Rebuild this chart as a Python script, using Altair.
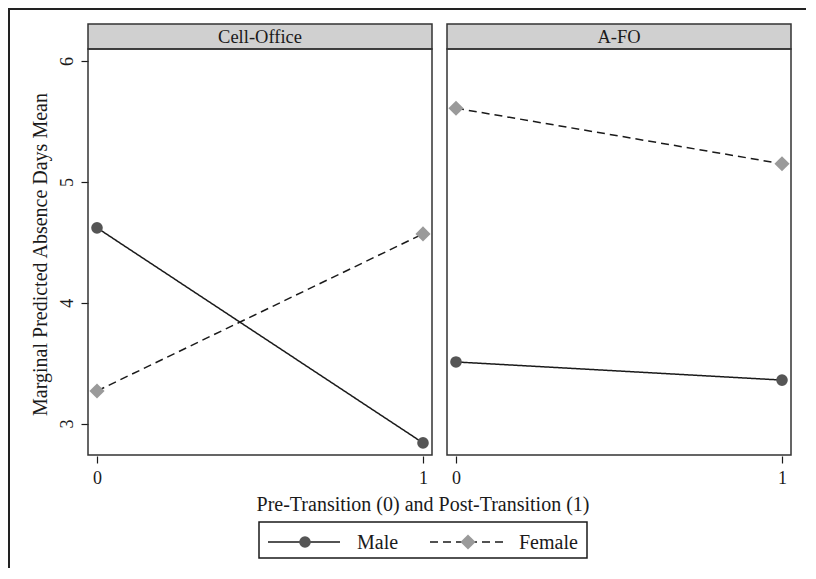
import altair as alt
import pandas as pd

# ---- data ----
panels = ["Cell-Office", "A-FO"]
series = ["Male", "Female"]
periods = [0, 1]
cell_male = [4.62, 2.84]
cell_female = [3.27, 4.57]
afo_male = [3.51, 3.36]
afo_female = [5.61, 5.15]
y_ticks = [3, 4, 5, 6]
x_ticks = [0, 1]

rows = []
for panel, m, f in [("Cell-Office", cell_male, cell_female), ("A-FO", afo_male, afo_female)]:
    for p, v in zip(periods, m):
        rows.append({"panel": panel, "sex": "Male", "period": p, "value": v})
    for p, v in zip(periods, f):
        rows.append({"panel": panel, "sex": "Female", "period": p, "value": v})
df = pd.DataFrame(rows)
legend_df = pd.DataFrame({"sex": series})

FONT = "Liberation Serif"
W, H = 798, 560
INK = "#1a1a1a"

yscale = alt.Scale(domain=[2.74, 6.1], range=[447, 41], nice=False, zero=False)
yaxis = alt.Axis(values=y_ticks, orient="left", offset=-80, domain=False, grid=False,
                 tickSize=7, tickColor=INK, tickWidth=1.2, labelAngle=-90, labelAlign="center",
                 labelBaseline="bottom", labelPadding=5, labelFont=FONT, labelFontSize=18,
                 labelColor=INK, title="Marginal Predicted Absence Days Mean",
                 titleFont=FONT, titleFontSize=20, titleFontWeight="normal", titleColor=INK,
                 titleAngle=-90, titleX=-48, titleY=246, titleAlign="center", titleBaseline="middle")

dash_scale = alt.Scale(domain=series, range=[[1, 0], [8, 5]])
shape_scale = alt.Scale(domain=series, range=["circle", "diamond"])
fill_scale = alt.Scale(domain=series, range=["#555555", "#9a9a9a"])
size_scale = alt.Scale(domain=series, range=[135, 230])

def xaxis():
    return alt.Axis(values=x_ticks, format="d", orient="bottom", offset=448 - H, domain=False,
                    grid=False, tickSize=7, tickColor=INK, tickWidth=1.2, labelPadding=6,
                    labelFont=FONT, labelFontSize=18, labelColor=INK, labelAngle=0, title=None)

def panel_layers(name, x0, x1):
    xs = alt.Scale(domain=[-0.0276, 1.0276], range=[x0, x1], nice=False, zero=False)
    base = alt.Chart(df).transform_filter(alt.datum.panel == name)
    line = base.mark_line(color=INK, strokeWidth=1.5).encode(
        x=alt.X("period:Q", scale=xs, axis=xaxis()),
        y=alt.Y("value:Q", scale=yscale, axis=yaxis),
        strokeDash=alt.StrokeDash("sex:N", scale=dash_scale, legend=None),
        detail="sex:N",
    )
    pts = base.mark_point(filled=True, opacity=1, strokeWidth=0).encode(
        x=alt.X("period:Q", scale=xs, axis=None),
        y=alt.Y("value:Q", scale=yscale, axis=yaxis),
        shape=alt.Shape("sex:N", scale=shape_scale, legend=None),
        fill=alt.Fill("sex:N", scale=fill_scale, legend=None),
        size=alt.Size("sex:N", scale=size_scale, legend=None),
    )
    frame = alt.Chart(legend_df.head(1)).mark_rect(fill=None, stroke="#333333", strokeWidth=1.5).encode(
        x=alt.value(x0), x2=alt.value(x1), y=alt.value(41), y2=alt.value(447))
    header = alt.Chart(legend_df.head(1)).mark_rect(fill="#d0d0d0", stroke="#333333", strokeWidth=1.5).encode(
        x=alt.value(x0), x2=alt.value(x1), y=alt.value(16), y2=alt.value(41))
    htext = alt.Chart(pd.DataFrame({"panel": [name]})).mark_text(
        font=FONT, fontSize=18.5, color=INK, baseline="middle", align="center").encode(
        x=alt.value((x0 + x1) / 2), y=alt.value(28.5), text="panel:N")
    return [header, frame, line, pts, htext]

layers = []
layers += panel_layers("Cell-Office", 80, 424)
layers += panel_layers("A-FO", 439, 783)

# outer frame (top and left edges)
one = legend_df.head(1)
layers.append(alt.Chart(one).mark_rule(color="#222222", strokeWidth=2).encode(
    x=alt.value(0), x2=alt.value(W), y=alt.value(1)))
layers.append(alt.Chart(one).mark_rule(color="#222222", strokeWidth=2).encode(
    x=alt.value(1), y=alt.value(0), y2=alt.value(H)))

# x-axis title
layers.append(alt.Chart(pd.DataFrame({"t": ["Pre-Transition (0) and Post-Transition (1)"]})).mark_text(
    font=FONT, fontSize=20, color=INK, baseline="middle", align="center").encode(
    x=alt.value(415), y=alt.value(497), text="t:N"))

# legend
LY = 534
layers.append(alt.Chart(one).mark_rect(fill=None, stroke=INK, strokeWidth=1.5).encode(
    x=alt.value(251), x2=alt.value(579), y=alt.value(514), y2=alt.value(550)))
male_l = alt.Chart(legend_df).transform_filter(alt.datum.sex == "Male")
fem_l = alt.Chart(legend_df).transform_filter(alt.datum.sex == "Female")
layers.append(male_l.mark_rule(color=INK, strokeWidth=1.5).encode(
    x=alt.value(260), x2=alt.value(332), y=alt.value(LY)))
layers.append(male_l.mark_point(filled=True, opacity=1, strokeWidth=0, shape="circle", fill="#555555").encode(
    x=alt.value(297), y=alt.value(LY), size=alt.value(135)))
layers.append(male_l.mark_text(font=FONT, fontSize=20, color=INK, align="left", baseline="middle").encode(
    x=alt.value(349), y=alt.value(LY + 1), text="sex:N"))
layers.append(fem_l.mark_rule(color=INK, strokeWidth=1.5, strokeDash=[8, 5]).encode(
    x=alt.value(422), x2=alt.value(499), y=alt.value(LY)))
layers.append(fem_l.mark_point(filled=True, opacity=1, strokeWidth=0, shape="diamond", fill="#9a9a9a").encode(
    x=alt.value(460), y=alt.value(LY), size=alt.value(230)))
layers.append(fem_l.mark_text(font=FONT, fontSize=20, color=INK, align="left", baseline="middle").encode(
    x=alt.value(511), y=alt.value(LY + 1), text="sex:N"))

chart = alt.layer(*layers).resolve_scale(x="independent").properties(
    width=W, height=H, autosize=alt.AutoSizeParams(type="none"), padding=0,
    background="white"
).configure_view(stroke=None)

chart.save("out.html", embed_options={"renderer": "svg", "actions": False})
